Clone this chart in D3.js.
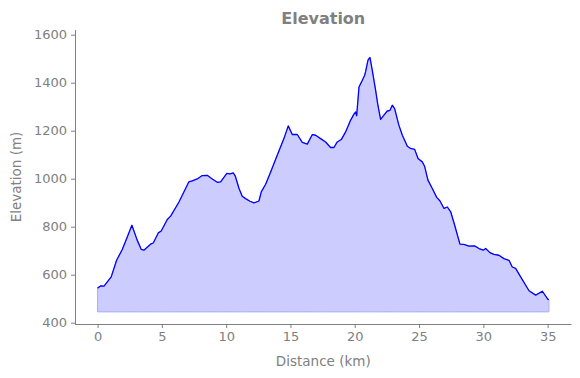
<!DOCTYPE html>
<html>
<head>
<meta charset="utf-8">
<script src="https://cdn.jsdelivr.net/npm/d3@7"></script>
<style>
  html, body { margin: 0; padding: 0; background: #fff; }
  svg text { font-family: "DejaVu Sans", sans-serif; fill: #808080; }
</style>
</head>
<body>
<svg id="chart" width="580" height="378"></svg>
<script>
// ---- data ----
const distanceKm = [
  0.0, 0.23, 0.5, 1.06, 1.48, 1.92, 2.31, 2.67, 3.08, 3.4, 3.6, 4.12, 4.33, 4.72, 4.95,
  5.42, 5.68, 6.33, 7.1, 7.36, 7.75, 8.14, 8.53, 8.92, 9.31, 9.57, 10.05, 10.3, 10.55,
  10.7, 11.0, 11.25, 11.51, 11.85, 12.16, 12.55, 12.73, 13.07, 13.46, 13.84, 14.49,
  14.83, 15.14, 15.53, 15.92, 16.31, 16.7, 16.96, 17.34, 17.73, 18.12, 18.38, 18.64,
  18.95, 19.29, 19.68, 19.94, 20.07, 20.15, 20.33, 20.59, 20.77, 20.84, 21.03, 21.18,
  21.36, 21.62, 21.8, 22.01, 22.27, 22.53, 22.74, 22.92, 23.1, 23.43, 23.7, 24.09,
  24.34, 24.66, 24.92, 25.25, 25.43, 25.69, 26.03, 26.37, 26.63, 26.94, 27.2, 27.46,
  27.77, 28.18, 28.49, 28.88, 29.32, 29.66, 30.0, 30.18, 30.51, 30.82, 31.21, 31.6,
  31.99, 32.25, 32.51, 32.9, 33.55, 34.07, 34.59, 35.02, 35.1
];
const elevationM = [
  544, 553, 552, 591, 660, 705, 757, 806, 744, 705, 702, 727, 732, 774, 782,
  830, 844, 903, 987, 991, 999, 1013, 1014, 999, 985, 987, 1022, 1020, 1024,
  1012, 959, 927, 917, 906, 899, 907, 945, 977, 1028, 1080, 1167,
  1220, 1184, 1184, 1151, 1144, 1184, 1181, 1167, 1153, 1130, 1130, 1153,
  1163, 1195, 1244, 1269, 1278, 1262, 1382, 1410, 1431, 1445, 1494, 1505,
  1452, 1369, 1306, 1247, 1265, 1282, 1285, 1306, 1292, 1223, 1181, 1135,
  1126, 1122, 1084, 1070, 1052, 994, 959, 922, 907, 876, 882, 862,
  806, 727, 726, 719, 720, 709, 702, 709, 692, 685, 681, 667,
  660, 632, 626, 591, 533, 515, 531, 497, 497
];
const baseElevation = 445;
const xTicks = [0, 5, 10, 15, 20, 25, 30, 35];
const yTicks = [400, 600, 800, 1000, 1200, 1400, 1600];
const titleText = "Elevation";
const xLabel = "Distance (km)";
const yLabel = "Elevation (m)";

// ---- layout ----
const plot = { left: 75, right: 571.5, top: 30, bottom: 324 };
const gray = "#808080";

const data = distanceKm.map((d, i) => ({ d, e: elevationM[i] }));

const x = d3.scaleLinear().domain([-1.755, 36.855]).range([plot.left, plot.right]);
const y = d3.scaleLinear().domain([394.5, 1619.5]).range([plot.bottom, plot.top]);

const svg = d3.select("#chart");

// area fill
const area = d3.area()
  .x(p => x(p.d))
  .y0(y(baseElevation))
  .y1(p => y(p.e));
svg.append("path")
  .datum(data)
  .attr("d", area)
  .attr("fill", "#ccccff")
  .attr("stroke", "#aaaaff")
  .attr("stroke-width", 1);

// line
const line = d3.line().x(p => x(p.d)).y(p => y(p.e));
svg.append("path")
  .datum(data)
  .attr("d", line)
  .attr("fill", "none")
  .attr("stroke", "#0000ff")
  .attr("stroke-width", 1.3)
  .attr("stroke-linejoin", "round");

// axes
const xAxis = d3.axisBottom(x).tickValues(xTicks).tickSize(4).tickPadding(4).tickFormat(d3.format("d"));
const yAxis = d3.axisLeft(y).tickValues(yTicks).tickSize(4).tickPadding(4).tickFormat(d3.format("d"));

const gx = svg.append("g").attr("transform", `translate(0,${plot.bottom})`).call(xAxis);
const gy = svg.append("g").attr("transform", `translate(${plot.left},0)`).call(yAxis);

[gx, gy].forEach(g => {
  g.select(".domain").attr("stroke", gray).attr("stroke-width", 1).attr("d",
    g === gx ? `M${plot.left},0.5H${plot.right}` : `M0.5,${plot.bottom}V${plot.top}`);
  g.selectAll(".tick line").attr("stroke", gray);
  g.selectAll(".tick text").attr("fill", gray).style("font-size", "13px")
    .style("font-family", "DejaVu Sans, sans-serif");
});
gx.select(".domain").attr("transform", "translate(0,0)");

// title
svg.append("text")
  .attr("x", (plot.left + plot.right) / 2)
  .attr("y", 24)
  .attr("text-anchor", "middle")
  .style("font-size", "16px")
  .style("font-weight", "bold")
  .text(titleText);

// x label
svg.append("text")
  .attr("x", (plot.left + plot.right) / 2)
  .attr("y", 366)
  .attr("text-anchor", "middle")
  .style("font-size", "13.5px")
  .text(xLabel);

// y label
svg.append("text")
  .attr("transform", `translate(21,${(plot.top + plot.bottom) / 2}) rotate(-90)`)
  .attr("text-anchor", "middle")
  .style("font-size", "13.5px")
  .text(yLabel);
</script>
</body>
</html>
